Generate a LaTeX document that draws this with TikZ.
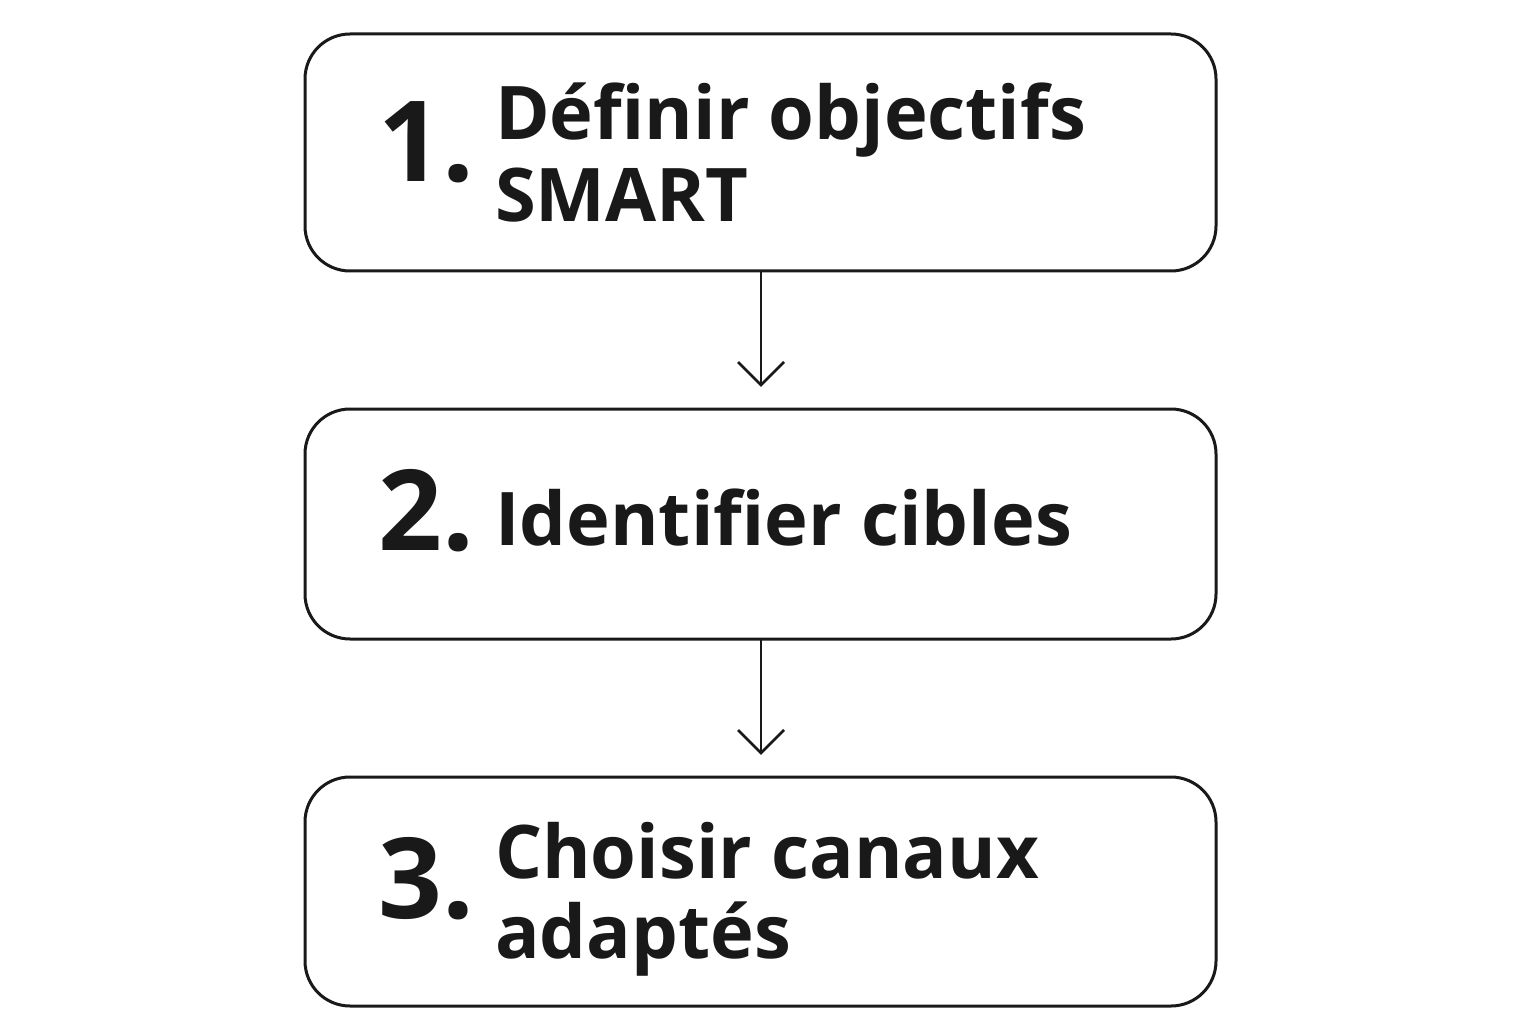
\documentclass[tikz,border=0pt]{standalone}
\usepackage{fontspec}
\setmainfont{Open Sans}
\begin{document}
\begin{tikzpicture}[x=1pt,y=-1pt,
  box/.style={draw=black!90,line width=3pt,rounded corners=45pt},
  num/.style={anchor=base west,inner sep=0,font=\fontsize{112}{112}\selectfont\bfseries,text=black!90},
  lab/.style={anchor=base west,inner sep=0,align=left,font=\fontsize{74}{82}\selectfont\bfseries,text=black!90},
  conn/.style={draw=black!90,line width=2.5pt}]
\useasboundingbox (0,0) rectangle (1536,1024);
\draw[box] (305,34) rectangle (1216,271);
\draw[box] (305,409) rectangle (1216,639);
\draw[box] (305,777) rectangle (1216,1006);
\coordinate (b1) at (761,271); \coordinate (t2) at (761,385);
\coordinate (b2) at (761,639); \coordinate (t3) at (761,753);
\draw[conn] (b1) -- (t2); \draw[conn] (738,362) -- (t2) -- (784,362);
\draw[conn] (b2) -- (t3); \draw[conn] (738,730) -- (t3) -- (784,730);
\node[num] (n1) at (378,182) {1.};
\node[lab] (l1) at (495,140) {Définir objectifs};
\node[lab] (l1b) at (495,222) {SMART};
\node[num] (n2) at (378,550) {2.};
\node[lab] (l2) at (495,545) {Identifier cibles};
\node[num] (n3) at (378,918) {3.};
\node[lab] (l3) at (495,878) {Choisir canaux};
\node[lab] (l3b) at (495,958) {adaptés};
\end{tikzpicture}
\end{document}
